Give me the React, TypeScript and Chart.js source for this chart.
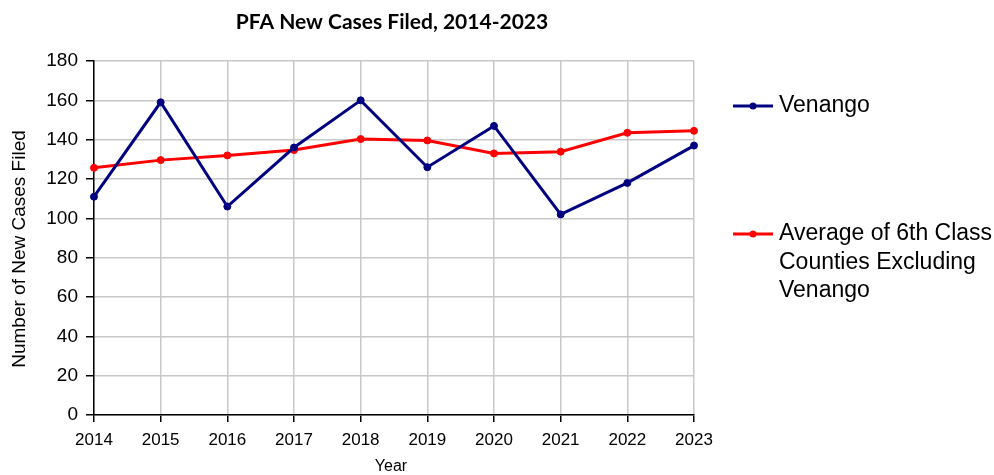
import React, { useEffect, useRef } from "react";
import { Chart, registerables } from "chart.js";

Chart.register(...registerables);

const years = ["2014", "2015", "2016", "2017", "2018", "2019", "2020", "2021", "2022", "2023"];
const venango = [111, 159, 106, 136, 160, 126, 147, 102, 118, 137];
const average6th = [125.7, 129.6, 132, 134.7, 140.3, 139.6, 133, 133.9, 143.5, 144.5];
const seriesLabels = ["Venango", "Average of 6th Class Counties Excluding Venango"];
const seriesColors = ["#000080", "#ff0000"];
const chartTitle = "PFA New Cases Filed, 2014-2023";
const xTitle = "Year";
const yTitle = "Number of New Cases Filed";

const FONT = "'Liberation Sans', Arial, sans-serif";

const titlePlugin = {
  id: "customTitle",
  afterDraw(chart: any) {
    const ctx = chart.ctx;
    ctx.save();
    ctx.font = `bold 21px Lato, 'Noto Sans', sans-serif`;
    ctx.fillStyle = "#000";
    ctx.textAlign = "center";
    ctx.textBaseline = "middle";
    ctx.fillText(chartTitle, 392, 22);
    // axis titles
    ctx.font = `16px ${FONT}`;
    ctx.fillText(xTitle, 391, 467);
    ctx.translate(20, 249);
    ctx.rotate(-Math.PI / 2);
    ctx.font = `19px ${FONT}`;
    ctx.fillText(yTitle, 0, 0);
    ctx.restore();
  },
};

const legendPlugin = {
  id: "customLegend",
  afterDraw(chart: any) {
    const ctx = chart.ctx;
    const ys = [106, 234];
    const lineX0 = 733;
    const lineX1 = 773;
    const textX = 779;
    const maxW = 216;
    const lh = 28.5;
    ctx.save();
    ctx.font = `23px ${FONT}`;
    chart.data.datasets.forEach((ds: any, i: number) => {
      const y = ys[i];
      ctx.strokeStyle = ds.borderColor;
      ctx.lineWidth = 3;
      ctx.beginPath();
      ctx.moveTo(lineX0, y);
      ctx.lineTo(lineX1, y);
      ctx.stroke();
      ctx.fillStyle = ds.borderColor;
      ctx.beginPath();
      ctx.arc((lineX0 + lineX1) / 2, y, 3.5, 0, Math.PI * 2);
      ctx.fill();
      const words = String(ds.label).split(" ");
      const lines: string[] = [];
      let cur = "";
      words.forEach((w) => {
        const test = cur ? cur + " " + w : w;
        if (ctx.measureText(test).width > maxW && cur) {
          lines.push(cur);
          cur = w;
        } else {
          cur = test;
        }
      });
      if (cur) lines.push(cur);
      ctx.fillStyle = "#000";
      ctx.textAlign = "left";
      ctx.textBaseline = "middle";
      lines.forEach((ln, k) => ctx.fillText(ln, textX, y + k * lh));
    });
    ctx.restore();
  },
};

export default function App() {
  const ref = useRef<HTMLCanvasElement | null>(null);
  useEffect(() => {
    if (!ref.current) return;
    const chart = new Chart(ref.current, {
      type: "line",
      data: {
        labels: years,
        datasets: [
          {
            label: seriesLabels[0],
            data: venango,
            borderColor: seriesColors[0],
            backgroundColor: seriesColors[0],
            borderWidth: 3,
            pointRadius: 3.5,
            pointBorderWidth: 1,
            tension: 0,
          },
          {
            label: seriesLabels[1],
            data: average6th,
            borderColor: seriesColors[1],
            backgroundColor: seriesColors[1],
            borderWidth: 3,
            pointRadius: 3.5,
            pointBorderWidth: 1,
            tension: 0,
          },
        ],
      },
      options: {
        responsive: false,
        animation: false,
        events: [],
        layout: { padding: { top: 61, right: 300, left: 0, bottom: 0 } },
        plugins: {
          legend: { display: false },
          title: { display: false },
          tooltip: { enabled: false },
        },
        scales: {
          x: {
            grid: {
              color: "#c8c8c8",
              lineWidth: 1.5,
              tickColor: "#000",
              tickLength: 7,
              offset: false,
            },
            border: { color: "#000", width: 1.5 },
            ticks: {
              color: "#000",
              font: { family: FONT, size: 17 },
              padding: 8,
              maxRotation: 0,
              autoSkip: false,
            },
            afterFit: (s: any) => {
              s.height = 60;
            },
          },
          y: {
            min: 0,
            max: 180,
            ticks: {
              stepSize: 20,
              color: "#000",
              font: { family: FONT, size: 19 },
              padding: 8,
            },
            grid: {
              color: "#c8c8c8",
              lineWidth: 1.5,
              tickColor: "#000",
              tickLength: 8,
            },
            border: { color: "#000", width: 1.5 },
            afterFit: (s: any) => {
              s.width = 94;
            },
          },
        },
      },
      plugins: [titlePlugin, legendPlugin],
    });
    return () => chart.destroy();
  }, []);
  return (
    <div style={{ position: "absolute", left: 0, top: 0, width: 994, height: 475, background: "#fff" }}>
      <canvas ref={ref} width={994} height={475} style={{ display: "block" }} />
    </div>
  );
}
